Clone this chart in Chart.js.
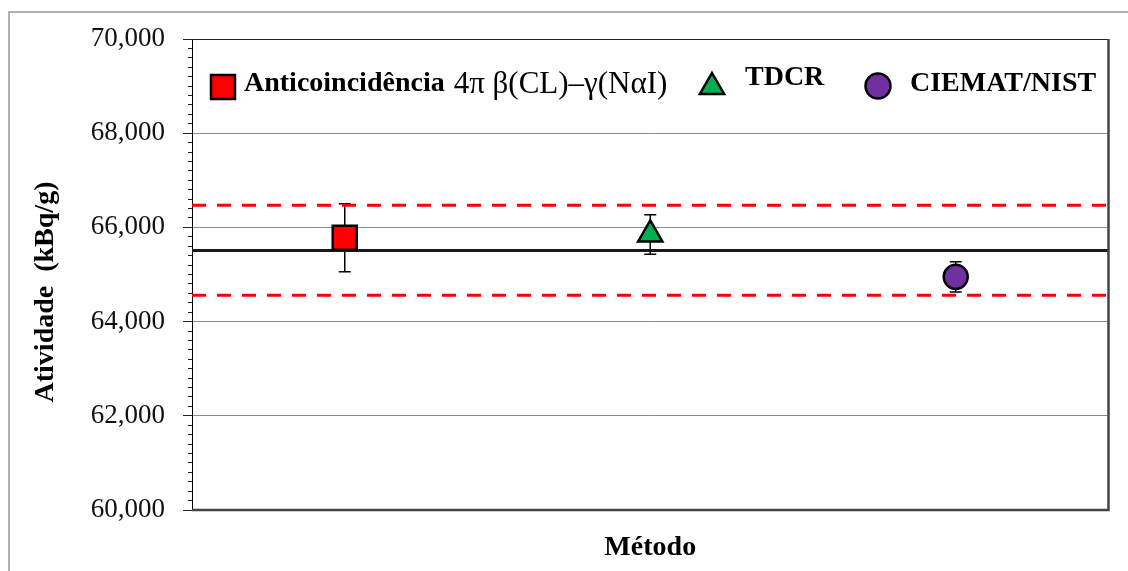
<!DOCTYPE html>
<html>
<head>
<meta charset="utf-8">
<script src="https://cdn.jsdelivr.net/npm/chart.js@4.4.1/dist/chart.umd.min.js"></script>
<style>
  html, body { margin: 0; padding: 0; background: #fff; }
</style>
</head>
<body>
<canvas id="metodoChart" width="1128" height="571"></canvas>
<script>
// data
const methods = ['Anticoincidência  4π β(CL)–γ(NαI)', 'TDCR', 'CIEMAT/NIST'];
const methodPos = [1, 2, 3];
const activity = [65780, 65850, 64950];
const uncertainty = [720, 420, 320];
const meanActivity = 65510;
const limitHigh = 66470;
const limitLow = 64560;
const yTicks = [60000, 62000, 64000, 66000, 68000, 70000];

// styles
const markerStyle = ['rect', 'triangle', 'circle'];
const markerColor = ['#ff0000', '#00b050', '#7030a0'];
const markerRadius = [17, 14, 12];
const serif = "'Liberation Serif', 'Times New Roman', serif";

const datasets = methods.map((m, i) => ({
  label: m,
  data: [{ x: methodPos[i], y: activity[i] }],
  pointStyle: markerStyle[i],
  pointRadius: markerRadius[i],
  pointHoverRadius: markerRadius[i],
  backgroundColor: markerColor[i],
  borderColor: '#000',
  pointBorderWidth: 2.5
}));

function refLine(value, color, dash) {
  return {
    label: '',
    data: [{ x: 0.5, y: value }, { x: 3.5, y: value }],
    showLine: true,
    pointRadius: 0,
    borderColor: color,
    borderWidth: 3,
    borderDash: dash
  };
}
datasets.push(refLine(meanActivity, '#1a1a1a', []));
datasets.push(refLine(limitHigh, '#ff0000', [14, 11]));
datasets.push(refLine(limitLow, '#ff0000', [14, 11]));

const errorBars = {
  id: 'errorBars',
  beforeDatasetsDraw(chart) {
    const { ctx, scales: { x, y } } = chart;
    ctx.save();
    ctx.strokeStyle = '#000';
    ctx.lineWidth = 1.5;
    activity.forEach((v, i) => {
      const px = x.getPixelForValue(methodPos[i]);
      const top = y.getPixelForValue(v + uncertainty[i]);
      const bot = y.getPixelForValue(v - uncertainty[i]);
      ctx.beginPath();
      ctx.moveTo(px, top); ctx.lineTo(px, bot);
      ctx.moveTo(px - 6, top); ctx.lineTo(px + 6, top);
      ctx.moveTo(px - 6, bot); ctx.lineTo(px + 6, bot);
      ctx.stroke();
    });
    ctx.restore();
  }
};

const frames = {
  id: 'frames',
  beforeDraw(chart) {
    const ctx = chart.ctx;
    ctx.save();
    ctx.strokeStyle = '#b0b0b0';
    ctx.lineWidth = 2;
    ctx.beginPath();
    ctx.moveTo(9, chart.height); ctx.lineTo(9, 12); ctx.lineTo(chart.width, 12);
    ctx.stroke();
    ctx.restore();
  },
  afterDatasetsDraw(chart) {
    const { ctx, chartArea: a } = chart;
    ctx.save();
    ctx.strokeStyle = '#222';
    ctx.lineWidth = 1;
    ctx.beginPath();
    ctx.moveTo(a.left, a.top + 0.5); ctx.lineTo(a.right, a.top + 0.5);
    ctx.stroke();
    ctx.strokeStyle = '#444';
    ctx.lineWidth = 2.5;
    ctx.beginPath();
    ctx.moveTo(a.right, a.top); ctx.lineTo(a.right, a.bottom); ctx.lineTo(a.left, a.bottom);
    ctx.stroke();
    ctx.restore();
  }
};

function drawMarker(ctx, style, x, y, r, fill) {
  ctx.beginPath();
  if (style === 'rect') {
    ctx.rect(x - r, y - r, 2 * r, 2 * r);
  } else if (style === 'triangle') {
    ctx.moveTo(x, y - r);
    ctx.lineTo(x + r * 0.866, y + r / 2);
    ctx.lineTo(x - r * 0.866, y + r / 2);
    ctx.closePath();
  } else {
    ctx.arc(x, y, r, 0, Math.PI * 2);
  }
  ctx.fillStyle = fill;
  ctx.fill();
  ctx.lineWidth = 2.5;
  ctx.strokeStyle = '#000';
  ctx.stroke();
}

// legend drawn inside the plot area, like the original
const insideLegend = {
  id: 'insideLegend',
  afterDraw(chart, args, opts) {
    const ctx = chart.ctx;
    ctx.save();
    ctx.textBaseline = 'middle';
    opts.items.forEach((it, i) => {
      const ds = chart.data.datasets[i];
      drawMarker(ctx, ds.pointStyle, it.mx, it.my, it.r, ds.backgroundColor);
      const parts = ds.label.split('  ');
      ctx.fillStyle = '#000';
      ctx.font = 'bold 28px ' + serif;
      ctx.fillText(parts[0], it.tx, it.ty);
      if (parts.length > 1) {
        const w = ctx.measureText(parts[0]).width;
        ctx.font = '31px ' + serif;
        ctx.fillText(parts.slice(1).join('  '), it.tx + w + 9, it.ty + 1);
      }
    });
    ctx.restore();
  }
};

new Chart(document.getElementById('metodoChart'), {
  type: 'scatter',
  data: { datasets },
  plugins: [errorBars, frames, insideLegend],
  options: {
    responsive: false,
    devicePixelRatio: 1,
    animation: false,
    layout: { padding: { left: 0, top: 39, right: 15, bottom: 0 } },
    plugins: {
      legend: { display: false },
      tooltip: { enabled: false },
      insideLegend: {
        items: [
          { mx: 223, my: 87, r: 12, tx: 244, ty: 84 },
          { mx: 712, my: 87, r: 14, tx: 745, ty: 78 },
          { mx: 878, my: 86, r: 12.5, tx: 910, ty: 84 }
        ]
      }
    },
    scales: {
      x: {
        type: 'linear',
        min: 0.5,
        max: 3.5,
        ticks: { display: false },
        grid: { display: false },
        border: { display: false },
        afterFit(scale) { scale.height = 61; },
        title: {
          display: true,
          text: 'Método',
          color: '#000',
          font: { family: serif, size: 28, weight: 'bold' },
          padding: { top: 0, bottom: 6 }
        }
      },
      y: {
        min: yTicks[0],
        max: yTicks[yTicks.length - 1],
        weight: 1,
        afterBuildTicks(scale) { scale.ticks = yTicks.map(v => ({ value: v })); },
        afterFit(scale) { scale.width = 192; },
        ticks: {
          color: '#111',
          padding: 18,
          font: { family: serif, size: 27 },
          callback: v => v.toLocaleString('en-US')
        },
        grid: { color: '#8c8c8c', lineWidth: 1, tickColor: '#222', tickLength: 9 },
        border: { color: '#000', width: 1 },
        title: {
          display: true,
          text: 'Atividade  (kBq/g)     ',
          color: '#000',
          font: { family: serif, size: 28, weight: 'bold' },
          padding: { top: 29, bottom: 0 }
        }
      },
      yMinor: {
        position: 'left',
        weight: 0,
        min: yTicks[0],
        max: yTicks[yTicks.length - 1],
        ticks: { display: false, stepSize: 200 },
        afterFit(scale) { scale.width = 0; },
        grid: { drawOnChartArea: false, tickColor: '#222', tickLength: 4 },
        border: { display: false }
      }
    }
  }
});
</script>
</body>
</html>
